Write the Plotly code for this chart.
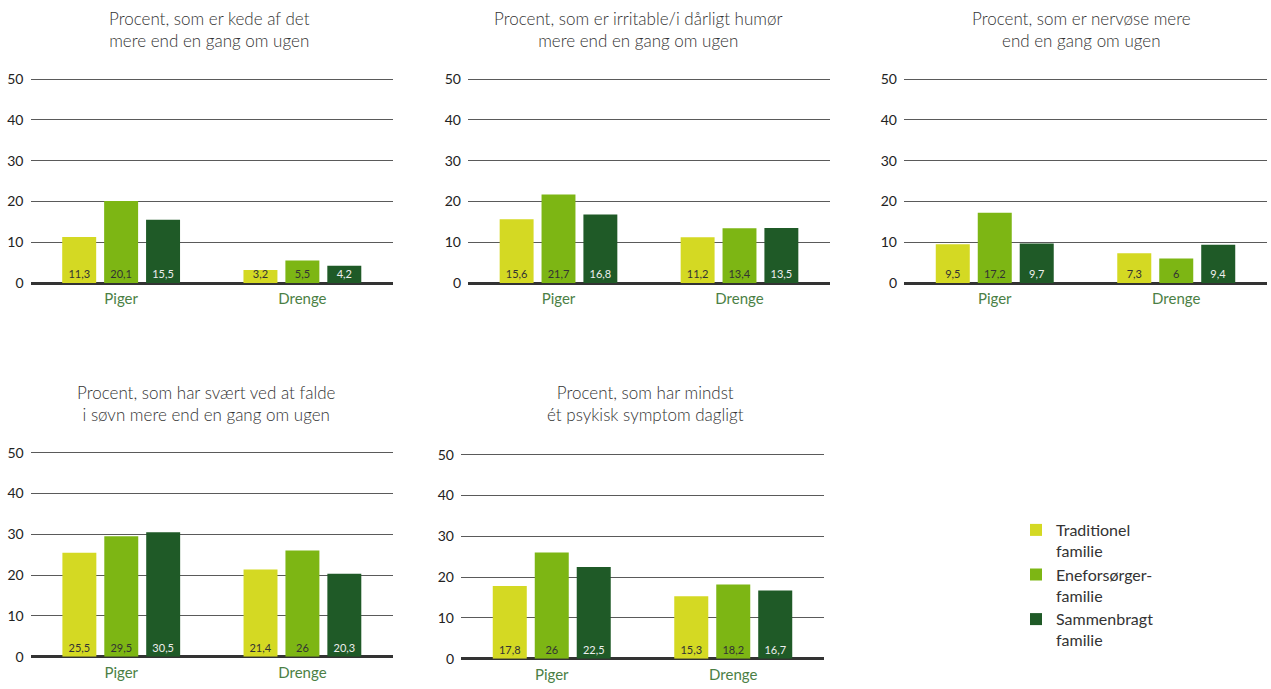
import plotly.graph_objects as go

categories = ["Piger", "Drenge"]
series_names = ["Traditionel<br>familie", "Eneforsørger-<br>familie", "Sammenbragt<br>familie"]
colors = ["#d4d923", "#7db614", "#1f5a27"]
text_colors = ["#333333", "#333333", "#eeeeee"]

titles = [
    "Procent, som er kede af det<br>mere end en gang om ugen",
    "Procent, som er irritable/i dårligt humør<br>mere end en gang om ugen",
    "Procent, som er nervøse mere<br>end en gang om ugen",
    "Procent, som har svært ved at falde<br>i søvn mere end en gang om ugen",
    "Procent, som har mindst<br>ét psykisk symptom dagligt",
]

# values[panel][series] = [Piger, Drenge]
p1 = [[11.3, 3.2], [20.1, 5.5], [15.5, 4.2]]
p2 = [[15.6, 11.2], [21.7, 13.4], [16.8, 13.5]]
p3 = [[9.5, 7.3], [17.2, 6.0], [9.7, 9.4]]
p4 = [[25.5, 21.4], [29.5, 26.0], [30.5, 20.3]]
p5 = [[17.8, 15.3], [26.0, 18.2], [22.5, 16.7]]
panels = [p1, p2, p3, p4, p5]

W, H = 1271, 689
YMAX = 50.6
# panel pixel boxes: (x0, x1, y at 50, y at 0)
boxes = [
    (30.5, 393, 79, 283),
    (468, 830, 79, 283),
    (904, 1267, 79, 283),
    (30.7, 393, 452.7, 656.7),
    (461, 824, 454.7, 658.7),
]
title_pos = [(209, 29), (638, 29), (1081, 29), (206, 403), (645, 404)]

def fmt(v):
    s = ("%.1f" % v).rstrip("0").rstrip(".")
    return s.replace(".", ",")

fig = go.Figure()
FONT = "Lato, 'Open Sans', sans-serif"

for i, (vals, box) in enumerate(zip(panels, boxes)):
    ax = "" if i == 0 else str(i + 1)
    for s in range(3):
        fig.add_trace(go.Bar(
            x=categories, y=vals[s], name=series_names[s],
            marker=dict(color=colors[s], line=dict(width=0)),
            text=[fmt(v) for v in vals[s]],
            textposition="inside", insidetextanchor="start",
            textangle=0, constraintext="none",
            textfont=dict(color=text_colors[s], size=11, family=FONT),
            xaxis="x" + ax, yaxis="y" + ax,
            showlegend=(i == 0), legendgroup="g%d" % s,
            cliponaxis=False,
        ))
    x0, x1, y50, y0 = box
    ppu = (y0 - y50) / 50.0
    ytop = y0 - YMAX * ppu
    fig.layout["xaxis" + ax] = dict(
        domain=[x0 / W, x1 / W], anchor="y" + ax,
        showgrid=False, showline=False, zeroline=False, ticks="",
        ticklabelstandoff=5, automargin=False,
        tickfont=dict(color="#4b7f45", size=15, family=FONT),
        fixedrange=True,
    )
    fig.layout["yaxis" + ax] = dict(
        domain=[1 - y0 / H, 1 - ytop / H], anchor="x" + ax,
        range=[0, YMAX], tickvals=[0, 10, 20, 30, 40, 50],
        showgrid=True, gridcolor="#5a5a5a", gridwidth=1.4,
        zeroline=True, zerolinecolor="#333333", zerolinewidth=2.5,
        showline=False, ticks="", ticklabelstandoff=6, automargin=False,
        tickfont=dict(color="#222222", size=14, family=FONT),
        fixedrange=True,
    )
    tx, ty = title_pos[i]
    fig.add_annotation(
        text=titles[i], xref="paper", yref="paper",
        x=tx / W, y=1 - ty / H,
        xanchor="center", yanchor="middle", showarrow=False,
        font=dict(size=17, color="#333333", family=FONT, weight=300),
        align="center",
    )

fig.update_layout(
    template="none",
    width=W, height=H,
    margin=dict(l=0, r=0, t=0, b=0, pad=0, autoexpand=False),
    paper_bgcolor="white", plot_bgcolor="white",
    barmode="group", bargap=0.306, bargroupgap=0.19,
    font=dict(family=FONT, color="#333333"),
    legend=dict(
        x=1016 / W, y=1 - 513 / H, xanchor="left", yanchor="top",
        valign="top", tracegroupgap=0,
        font=dict(size=16, color="#333333", family=FONT),
        bgcolor="rgba(0,0,0,0)",
    ),
)

fig.write_html("out.html")
